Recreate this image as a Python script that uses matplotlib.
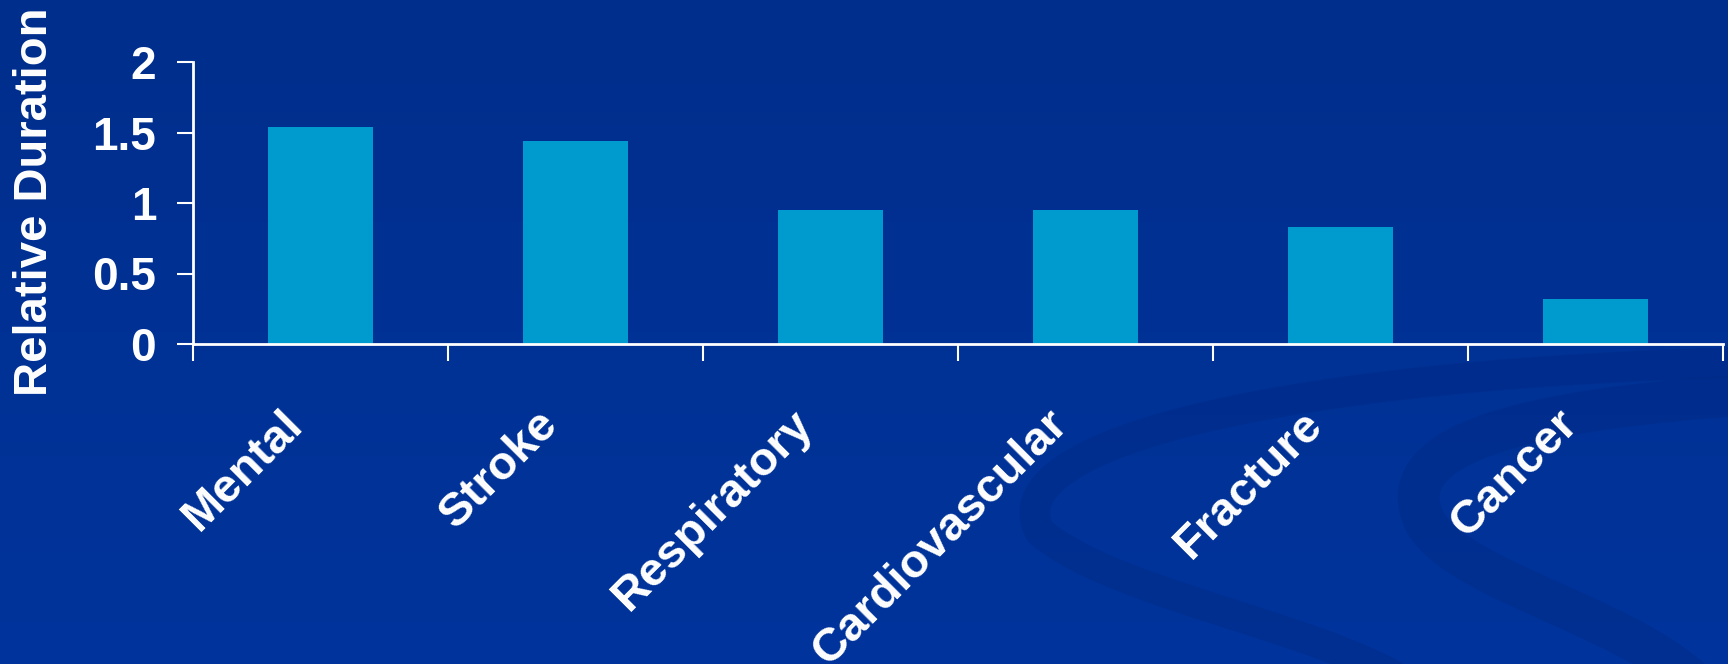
import numpy as np
import matplotlib
matplotlib.use("Agg")
import matplotlib.pyplot as plt
from matplotlib.path import Path
from matplotlib.patches import PathPatch
from matplotlib.transforms import ScaledTranslation, IdentityTransform

categories = ["Mental", "Stroke", "Respiratory", "Cardiovascular", "Fracture", "Cancer"]
values = [1.54, 1.44, 0.95, 0.95, 0.83, 0.32]
yticks = [0, 0.5, 1, 1.5, 2]
ytick_labels = ["0", "0.5", "1", "1.5", "2"]
ylabel = "Relative Duration"

W, H, DPI = 1728, 664, 100
plt.rcParams['font.family'] = ['Liberation Sans', 'DejaVu Sans']
fig = plt.figure(figsize=(W / DPI, H / DPI), dpi=DPI)

# background gradient
bg = fig.add_axes([0, 0, 1, 1])
bg.set_zorder(-5)
bg.set_axis_off()
top = np.array([0, 46, 140]) / 255
bot = np.array([0, 52, 156]) / 255
t = np.linspace(0, 1, 256)[:, None]
grad = top[None, None, :] * (1 - t[..., None]) + bot[None, None, :] * t[..., None]
grad = np.repeat(grad, 4, axis=1)
bg.imshow(grad, aspect='auto', extent=[0, 1, 0, 1], origin='upper', zorder=0)
bg.set_xlim(0, 1)
bg.set_ylim(0, 1)

# decorative swirl (pixel coordinates, y from top)
def px(x, y):
    return (x, H - y)

swirl_col = np.array((0, 40, 128)) / 255
curves = [
    ([(1760, 362), (1300, 372), (990, 440), (1040, 532), (1120, 600), (1350, 630), (1430, 700)], 22),
    ([(1760, 394), (1500, 410), (1390, 450), (1425, 522), (1460, 585), (1650, 620), (1710, 700)], 30),
]
for pts, lw in curves:
    verts = [px(*pts[0])]
    codes = [Path.MOVETO]
    for i in range(1, len(pts) - 1, 3):
        verts += [px(*pts[i]), px(*pts[i + 1]), px(*pts[i + 2])]
        codes += [Path.CURVE4] * 3
    path = Path(verts, codes)
    patch = PathPatch(path, facecolor='none', edgecolor=swirl_col,
                      lw=lw, alpha=0.35, transform=IdentityTransform(), zorder=2,
                      clip_on=False)
    bg.add_patch(patch)

ax = fig.add_axes([193 / W, 1 - 344 / H, (1723 - 193) / W, (344 - 62) / H])
ax.set_zorder(1)
ax.patch.set_alpha(0)
x = np.arange(len(categories))
ax.bar(x, values, width=0.41, color='#009BCE', zorder=3)
ax.set_xlim(-0.5, len(categories) - 0.5)
ax.set_ylim(0, 2)

for s in ['top', 'right']:
    ax.spines[s].set_visible(False)
for s in ['left', 'bottom']:
    ax.spines[s].set_color('white')
    ax.spines[s].set_linewidth(2)
    ax.spines[s].set_zorder(4)

ax.set_yticks(yticks)
ax.set_yticklabels(ytick_labels, fontsize=33, fontweight='bold', color='white')
ax.tick_params(axis='y', length=11.5, width=1.5, color='white', pad=15)
ax.set_xticks(np.arange(-0.5, len(categories), 1))
ax.set_xticklabels([])
ax.tick_params(axis='x', length=12, width=1.5, color='white')

tr = ax.get_xaxis_transform()
for i, c in enumerate(categories):
    off = ScaledTranslation(-40 / DPI, -58 / DPI, fig.dpi_scale_trans)
    ax.text(i, 0, c, transform=tr + off, rotation=45, rotation_mode='anchor',
            ha='right', va='top', fontsize=34, fontweight='bold', color='white',
            clip_on=False)

fig.text(35 / W, 1 - 202 / H, ylabel, rotation=90, ha='center', va='center',
         fontsize=34, fontweight='bold', color='white')

fig.savefig('out.png', dpi=DPI)
